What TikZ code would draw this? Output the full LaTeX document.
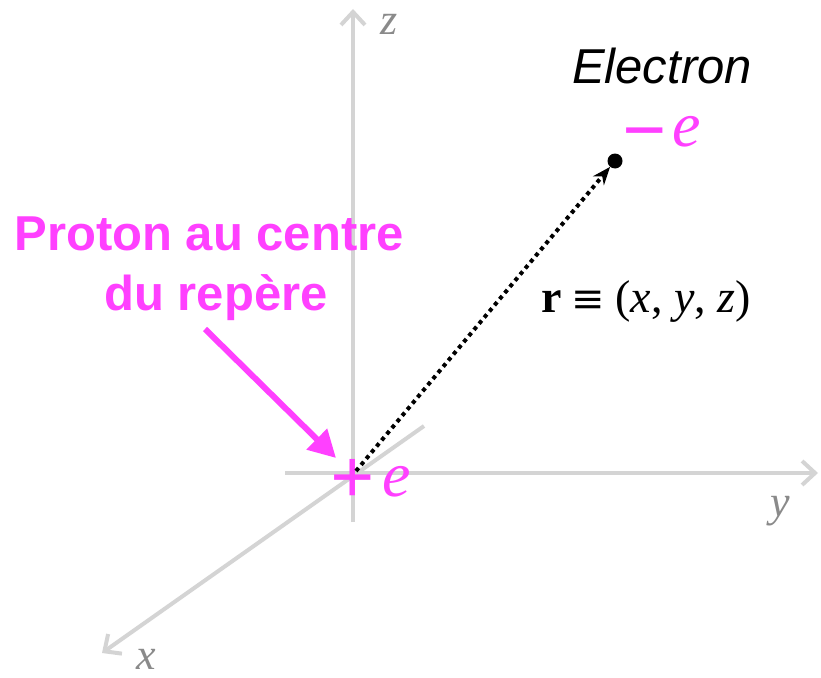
\documentclass[tikz,border=0pt]{standalone}
\usepackage{fontspec}
\setmainfont{Liberation Serif}
\newfontfamily\hel{Liberation Sans}
\newfontfamily\dvs{DejaVu Serif}
\usetikzlibrary{arrows.meta}
\definecolor{pinkc}{RGB}{255,64,255}
\definecolor{axisc}{RGB}{212,212,212}
\definecolor{labc}{RGB}{138,138,138}
\tikzset{
  axis/.style={draw=axisc, line width=4pt, -{Straight Barb[length=13pt,width=24pt,line width=4pt]}},
  axlab/.style={text=labc, font=\fontsize{44}{44}\selectfont\itshape, inner sep=0pt},
  pinktxt/.style={text=pinkc, font=\hel\bfseries\fontsize{49}{49}\selectfont, inner sep=0pt, anchor=base},
  charge/.style={text=pinkc, inner sep=0pt, anchor=base},
  posarrow/.style={draw=pinkc, line width=6pt, -{Triangle[length=27pt,width=28pt]}},
  rvec/.style={draw=black, line width=4pt, dash pattern=on 4pt off 4pt, -{Stealth[length=18pt,width=14pt]}},
}
\begin{document}
\begin{tikzpicture}[x=1pt,y=-1pt]
\useasboundingbox (0,0) rectangle (821,677);
% origin and axis end points
\coordinate (O) at (353,473);
\coordinate (zlo) at (353,522);
\coordinate (ztip) at (353,9);
\coordinate (ylo) at (285,473);
\coordinate (ytip) at (818,473);
\coordinate (xhi) at (424,426);
\coordinate (xtip) at (102,653);
\draw[axis] (zlo) -- (ztip);
\draw[axis] (ylo) -- (ytip);
\draw[axis] (xhi) -- (xtip);
\node[axlab] (zl) at (389,24) {z};
\node[axlab] (yl) at (780,511) {y};
\node[axlab] (xl) at (146,659) {x};
% proton label
\node[pinktxt] (p1) at (209,250) {Proton au centre};
\node[pinktxt] (p2) at (216,310) {du repère};
\coordinate (pa) at (205,329);
\coordinate (pb) at (336,458);
\draw[posarrow] (pa) -- (pb);
% proton charge
\node[charge, font=\fontsize{78}{78}\selectfont\bfseries] (plus) at (353,503) {+};
\node[charge, font=\fontsize{64}{64}\selectfont\itshape] (pe) at (397,496) {e};
% electron
\node[inner sep=0pt, anchor=base, font=\hel\itshape\fontsize{49}{49}\selectfont] (elab) at (662,83) {Electron};
\node[circle, fill=black, inner sep=0pt, minimum size=15pt] (edot) at (615,161) {};
\node[charge, font=\fontsize{78}{78}\selectfont\bfseries] (minus) at (645,156) {−};
\node[charge, font=\fontsize{64}{64}\selectfont\itshape] (me) at (687,146) {e};
\coordinate (rs) at (356,471);
\draw[rvec] (rs) -- (edot);
% r label
\node[inner sep=0pt, anchor=base, font=\fontsize{46}{46}\selectfont] (rlab) at (646,312) {\textbf{r}\hspace{0.22em}{\dvs\fontsize{40}{40}\selectfont ≡}\hspace{0.22em}(\textit{x}, \textit{y}, \textit{z})};
\end{tikzpicture}
\end{document}
